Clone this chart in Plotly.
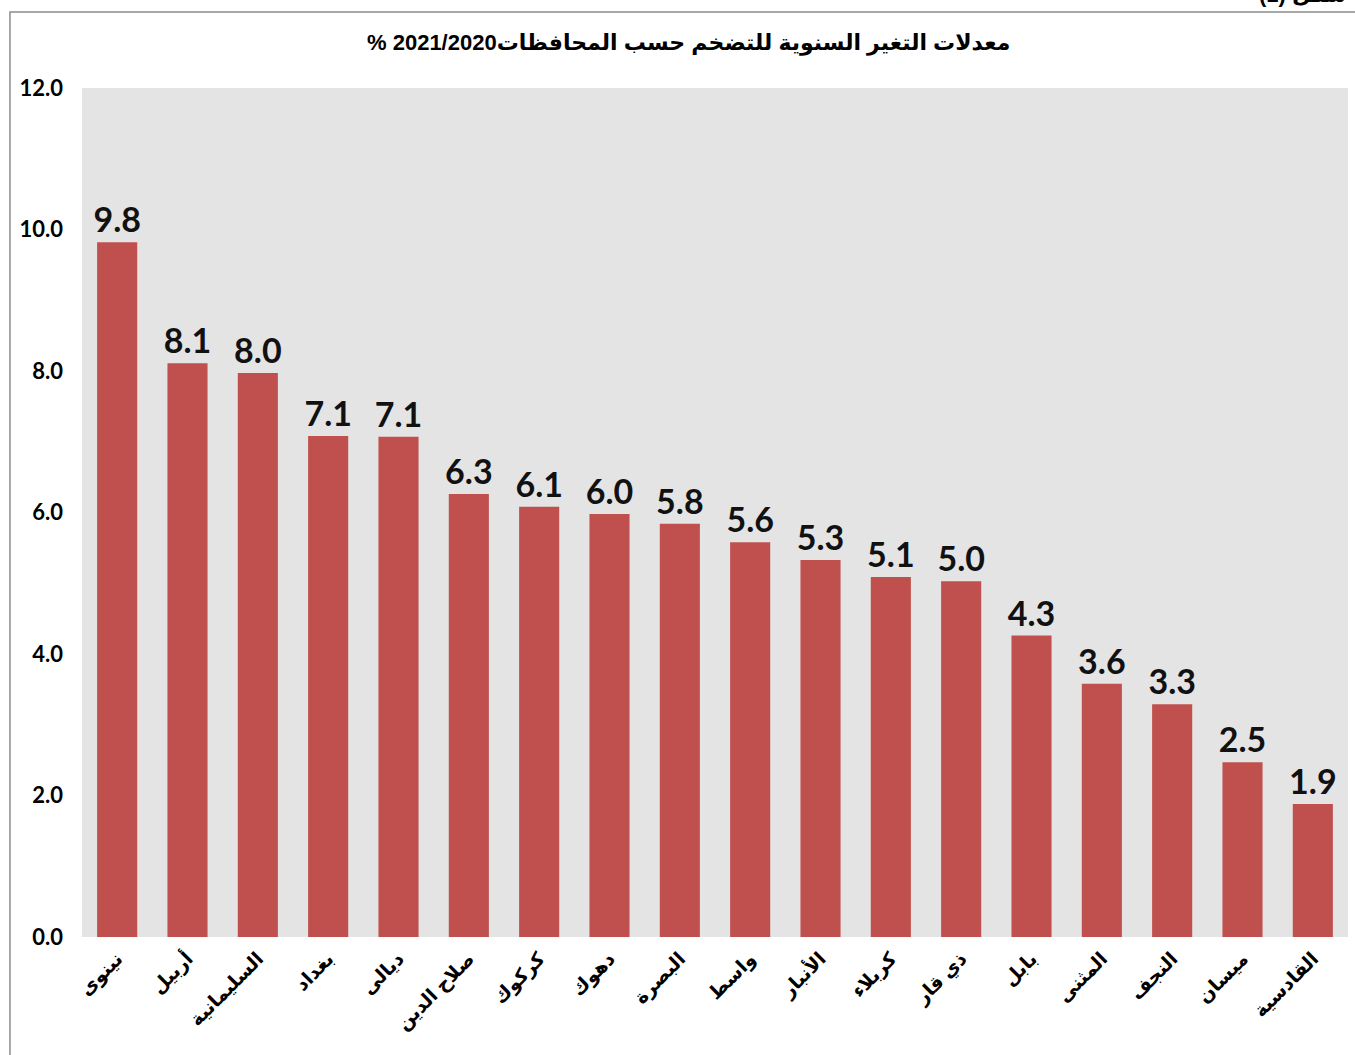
import plotly.graph_objects as go

provinces = ["نينوى", "أربيل", "السليمانية", "بغداد", "ديالى", "صلاح الدين", "كركوك", "دهوك", "البصرة",
             "واسط", "الأنبار", "كربلاء", "ذي قار", "بابل", "المثنى", "النجف", "ميسان", "القادسية"]
inflation = [9.82, 8.11, 7.97, 7.08, 7.07, 6.26, 6.08, 5.98, 5.84, 5.58, 5.33, 5.09, 5.03, 4.26, 3.58, 3.29, 2.47, 1.88]
y_ticks = [0, 2, 4, 6, 8, 10, 12]

title_text = "% 2021/2020" + "معدلات التغير السنوية للتضخم حسب المحافظات"

fig = go.Figure(go.Bar(
    x=provinces, y=inflation,
    marker=dict(color="#C0504D", line=dict(width=0)),
    text=[f"{v:.1f}" for v in inflation],
    texttemplate="%{text}",
    textposition="outside",
    constraintext="none",
    textfont=dict(family="Lato, Liberation Sans, sans-serif", size=34, color="#111111", weight="bold"),
    cliponaxis=False,
))

fig.update_layout(
    width=1355, height=1055,
    margin=dict(l=82, r=7, t=88, b=118),
    paper_bgcolor="white",
    plot_bgcolor="#e4e4e4",
    bargap=0.43,
    showlegend=False,
    font=dict(family="Liberation Sans, DejaVu Sans, sans-serif", color="black"),
    annotations=[
        dict(text=title_text, xref="paper", yref="paper", x=0.479, y=1.053,
             xanchor="center", yanchor="middle", showarrow=False,
             font=dict(family="Liberation Sans, DejaVu Sans, sans-serif", size=22, color="black", weight="bold")),
        dict(text="شكل (1)", xref="paper", yref="paper", x=1.0, y=1.093,
             xanchor="right", yanchor="bottom", showarrow=False,
             font=dict(family="Liberation Sans, DejaVu Sans, sans-serif", size=22, color="black", weight="bold")),
    ],
    shapes=[
        dict(type="rect", xref="paper", yref="paper", x0=-0.0569, x1=1.02, y0=-0.2, y1=1.0895,
             line=dict(color="#8c8c8c", width=1.5), fillcolor="rgba(0,0,0,0)", layer="below"),
    ],
)

fig.update_yaxes(
    range=[0, 12], tickvals=y_ticks, ticktext=[f"{t:.1f}" for t in y_ticks],
    showgrid=False, zeroline=False, showline=False,
    tickfont=dict(family="Lato, Liberation Sans, sans-serif", size=22, color="black", weight="bold"),
    ticklabelstandoff=18,
)
fig.update_xaxes(
    tickangle=-45, showgrid=False, showline=False,
    tickfont=dict(family="Liberation Sans, DejaVu Sans, sans-serif", size=19, color="black", weight="bold"),
    ticklabelstandoff=6,
)

fig.write_html("out.html", config={"displayModeBar": False},
               post_script="document.body.style.margin='0';")
